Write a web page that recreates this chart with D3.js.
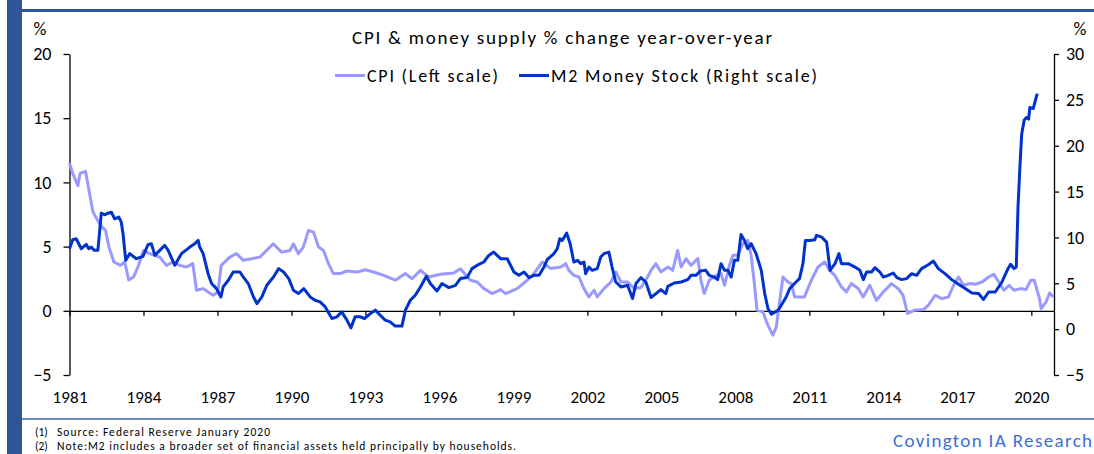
<!DOCTYPE html>
<html><head><meta charset="utf-8">
<script src="https://cdn.jsdelivr.net/npm/d3@7"></script>
<style>
html,body{margin:0;padding:0;background:#fff;}
svg{display:block;font-family:Carlito, Calibri, Lato, "Liberation Sans", sans-serif;}
</style></head>
<body><svg id="chart" width="1094" height="454"></svg>
<script>
const chartTitle = "CPI & money supply % change year-over-year";
const legendLabels = ["CPI (Left scale)", "M2 Money Stock (Right scale)"];
const xTickYears = [1981,1984,1987,1990,1993,1996,1999,2002,2005,2008,2011,2014,2017,2020];
const leftTicks = [-5,0,5,10,15,20];
const rightTicks = [-5,0,5,10,15,20,25,30];
const footnotes = ["Source: Federal Reserve January 2020", "Note:M2 includes a broader set of financial assets held principally by households."];
const brand = "Covington IA Research";

const cpiYears = [1981.0,1981.13,1981.34,1981.43,1981.65,1981.95,1982.26,1982.46,1982.6,1982.8,1983.07,1983.24,1983.4,1983.6,1983.8,1984.0,1984.25,1984.66,1984.93,1985.2,1985.47,1985.74,1986.0,1986.15,1986.42,1986.62,1986.83,1987.02,1987.15,1987.5,1987.77,1988.05,1988.38,1988.72,1989.26,1989.6,1989.94,1990.08,1990.28,1990.48,1990.69,1990.89,1991.1,1991.3,1991.5,1991.7,1991.98,1992.25,1992.66,1993.0,1993.33,1993.74,1994.21,1994.62,1994.89,1995.23,1995.57,1996.04,1996.58,1996.85,1997.26,1997.53,1997.8,1998.14,1998.48,1998.68,1999.15,1999.56,1999.83,2000.17,2000.5,2000.92,2001.12,2001.25,2001.45,2001.66,2001.86,2002.06,2002.27,2002.4,2002.67,2002.95,2003.15,2003.36,2003.63,2003.9,2004.17,2004.44,2004.58,2004.78,2004.98,2005.26,2005.46,2005.66,2005.8,2006.0,2006.2,2006.48,2006.6,2006.74,2006.94,2007.22,2007.42,2007.56,2007.76,2007.9,2008.1,2008.3,2008.5,2008.64,2008.77,2008.88,2009.11,2009.32,2009.52,2009.66,2009.8,2009.93,2010.13,2010.27,2010.4,2010.8,2011.08,2011.35,2011.62,2011.82,2012.03,2012.3,2012.5,2012.7,2012.98,2013.18,2013.45,2013.72,2014.0,2014.33,2014.6,2014.8,2014.98,2015.28,2015.62,2015.82,2016.1,2016.37,2016.64,2016.85,2017.05,2017.25,2017.52,2017.73,2018.0,2018.27,2018.48,2018.68,2018.89,2019.1,2019.3,2019.57,2019.78,2019.98,2020.12,2020.33,2020.4,2020.6,2020.74,2020.9];
const cpiValues = [11.5,10.7,9.75,10.7,10.86,7.7,6.65,6.26,4.96,3.8,3.54,3.8,2.4,2.63,3.54,4.7,4.45,4.18,3.54,3.8,3.54,3.41,3.67,1.6,1.73,1.47,1.21,1.47,3.54,4.18,4.45,3.93,4.06,4.18,5.22,4.57,4.7,5.22,4.45,4.96,6.26,6.13,4.96,4.7,3.67,2.9,2.9,3.1,3.02,3.2,3.02,2.76,2.38,2.9,2.5,3.15,2.63,2.84,2.94,3.28,2.38,2.24,1.73,1.34,1.65,1.34,1.73,2.38,2.9,3.8,3.3,3.41,3.67,3.15,2.76,2.63,1.73,1.08,1.6,1.08,1.73,2.24,3.02,2.24,2.24,1.73,1.81,2.63,3.15,3.67,3.02,3.41,3.15,4.7,3.41,4.06,3.54,4.06,2.38,1.34,2.38,2.76,2.9,1.99,3.54,4.32,4.32,5.22,5.48,4.32,2.12,0.05,-0.08,-1.12,-1.89,-1.25,0.82,2.63,2.24,2.12,1.08,1.08,2.38,3.41,3.8,3.15,2.76,1.86,1.47,2.12,1.73,1.08,1.99,0.82,1.47,2.12,1.73,1.21,-0.21,0.05,0.1,0.43,1.21,0.95,1.08,1.99,2.63,1.99,2.12,2.07,2.24,2.63,2.84,2.24,1.6,1.99,1.6,1.73,1.65,2.38,2.38,0.95,0.18,0.69,1.39,1.08];

const m2Years = [1981.0,1981.13,1981.27,1981.48,1981.68,1981.78,1981.88,1982.0,1982.15,1982.29,1982.42,1982.56,1982.7,1982.83,1983.0,1983.1,1983.17,1983.28,1983.44,1983.71,1983.98,1984.18,1984.32,1984.46,1984.66,1984.86,1985.0,1985.27,1985.54,1985.88,1986.08,1986.22,1986.28,1986.42,1986.62,1986.76,1986.96,1987.14,1987.23,1987.44,1987.64,1987.91,1988.05,1988.25,1988.46,1988.6,1988.8,1989.0,1989.27,1989.48,1989.68,1989.89,1990.08,1990.28,1990.5,1990.76,1990.96,1991.16,1991.37,1991.64,1991.84,1992.04,1992.25,1992.41,1992.58,1992.79,1992.96,1993.2,1993.4,1993.6,1993.8,1994.0,1994.21,1994.48,1994.62,1994.82,1995.02,1995.23,1995.47,1995.63,1995.9,1996.1,1996.38,1996.65,1996.85,1997.12,1997.32,1997.6,1997.8,1998.0,1998.2,1998.48,1998.75,1999.02,1999.22,1999.43,1999.63,1999.83,2000.04,2000.24,2000.37,2000.64,2000.78,2000.88,2000.98,2001.16,2001.3,2001.45,2001.6,2001.73,2001.86,2001.93,2002.06,2002.2,2002.4,2002.54,2002.67,2002.87,2003.0,2003.15,2003.36,2003.63,2003.83,2003.97,2004.17,2004.37,2004.58,2004.78,2004.98,2005.18,2005.26,2005.52,2005.8,2006.07,2006.2,2006.4,2006.58,2006.8,2006.94,2007.15,2007.28,2007.42,2007.56,2007.7,2007.83,2007.96,2008.1,2008.23,2008.37,2008.5,2008.64,2008.84,2009.05,2009.19,2009.32,2009.46,2009.74,2009.86,2010.06,2010.2,2010.4,2010.6,2010.74,2010.84,2011.01,2011.22,2011.29,2011.5,2011.7,2011.84,2012.04,2012.2,2012.3,2012.58,2012.85,2013.05,2013.19,2013.32,2013.52,2013.66,2013.86,2014.0,2014.2,2014.4,2014.55,2014.74,2014.94,2015.15,2015.35,2015.55,2015.82,2016.03,2016.23,2016.5,2016.77,2017.05,2017.32,2017.59,2017.86,2018.06,2018.27,2018.54,2018.81,2019.02,2019.16,2019.3,2019.39,2019.46,2019.53,2019.61,2019.71,2019.8,2019.89,2019.94,2020.08,2020.16,2020.24];
const m2Values = [8.77,9.75,9.86,8.77,9.24,8.77,8.95,8.59,8.59,12.64,12.47,12.64,12.75,12.03,12.21,11.66,10.4,7.5,8.23,7.68,7.93,9.2,9.32,8.04,8.59,9.13,8.59,6.96,8.23,8.95,9.32,9.67,8.95,8.23,6.05,4.97,4.42,3.51,4.6,5.33,6.23,6.23,5.68,4.97,3.51,2.79,3.51,4.78,5.68,6.6,6.23,5.51,4.24,3.88,4.42,3.51,3.15,2.97,2.42,1.16,1.34,1.88,0.98,0.14,1.34,1.34,1.16,1.7,2.07,1.52,0.98,0.79,0.33,0.33,2.07,3.15,3.7,4.6,5.76,4.97,4.16,4.97,4.53,4.78,5.51,5.62,6.6,7.07,7.32,8.04,8.4,7.68,7.68,6.23,5.87,6.23,5.62,5.87,5.87,6.77,7.58,8.23,8.77,9.86,9.67,10.47,9.32,7.32,7.5,7.14,7.32,6.05,6.77,6.41,6.6,7.86,8.23,8.4,6.77,5.14,4.6,4.78,3.34,4.97,5.62,5.14,3.45,3.88,4.31,3.88,4.67,5.03,5.14,5.4,5.87,5.87,6.34,6.41,5.87,5.68,5.4,7.14,6.41,6.41,5.68,7.5,7.5,10.33,9.67,8.77,9.32,8.23,6.41,3.88,2.25,1.63,2.07,2.6,3.5,4.4,4.97,5.51,7.14,9.67,9.67,9.75,10.22,10.03,9.49,6.41,7.14,8.23,7.14,7.14,6.77,6.41,5.4,6.23,6.23,6.7,6.23,5.68,5.87,6.12,5.62,5.4,5.51,6.05,5.87,6.6,7.03,7.42,6.6,6.05,5.4,4.89,4.42,3.95,3.88,3.23,4.05,4.05,5.14,6.41,7.07,6.6,6.77,13.29,17.28,21.27,22.79,23.08,22.9,24.16,24.05,24.89,25.68];

const cpiColor = "#9999ff", m2Color = "#0033cc", frameBlue = "#2f5597";
const svg = d3.select("#chart");

// frame
svg.append("rect").attr("x",7).attr("y",0).attr("width",15).attr("height",454).attr("fill",frameBlue);
svg.append("rect").attr("x",22).attr("y",9).attr("width",1072).attr("height",3).attr("fill",frameBlue);
svg.append("rect").attr("x",22).attr("y",418).attr("width",1072).attr("height",2).attr("fill","#6f8fc9");

const x = d3.scaleLinear().domain([1981, 2020.92]).range([69.5, 1054]);
const yL = d3.scaleLinear().domain([-5, 20]).range([375, 54]);
const yR = d3.scaleLinear().domain([-5, 30]).range([375, 54]);

// axes
const axL = svg.append("g").attr("transform","translate(69.5,0)")
  .call(d3.axisLeft(yL).tickValues(leftTicks).tickSize(6).tickSizeOuter(0).tickPadding(12));
const axR = svg.append("g").attr("transform","translate(1054,0)")
  .call(d3.axisRight(yR).tickValues(rightTicks).tickSize(5).tickSizeOuter(0).tickPadding(7));
const axX = svg.append("g").attr("transform",`translate(0,${yL(0)})`)
  .call(d3.axisBottom(x).tickValues(xTickYears).tickSize(5).tickSizeOuter(0).tickFormat(""));
const axXL = svg.append("g").attr("transform","translate(0,388)")
  .call(d3.axisBottom(x).tickValues(xTickYears).tickSize(0).tickFormat(d3.format("d")));
axXL.select(".domain").remove();
[axL, axR, axX, axXL].forEach(a => {
  a.selectAll("text").attr("font-family","Carlito, Calibri, Lato, sans-serif").attr("font-size",18).attr("fill","#000");
  a.selectAll("path,line").attr("stroke","#000").attr("stroke-width",1.3);
});
axXL.selectAll("text").attr("font-size",17).attr("textLength",35);

// percent labels
svg.append("text").attr("x",40).attr("y",35).attr("text-anchor","middle").attr("font-size",18).text("%");
svg.append("text").attr("x",1080).attr("y",35).attr("text-anchor","middle").attr("font-size",18).text("%");

// title
svg.append("text").attr("x",352).attr("y",44).attr("font-size",19).attr("textLength",420).text(chartTitle);

// lines
const lineGen = (ys, xs, vs) => d3.line().x((d,i)=>x(xs[i])).y((d,i)=>ys(vs[i]));
svg.append("path").datum(cpiValues).attr("d", lineGen(yL, cpiYears, cpiValues)).attr("fill","none")
  .attr("stroke",cpiColor).attr("stroke-width",3).attr("stroke-linejoin","round");
svg.append("path").datum(m2Values).attr("d", lineGen(yR, m2Years, m2Values)).attr("fill","none")
  .attr("stroke",m2Color).attr("stroke-width",3).attr("stroke-linejoin","round");

// legend
const leg = [{x:335, c:cpiColor, t:legendLabels[0], w:131}, {x:519, c:m2Color, t:legendLabels[1], w:266}];
leg.forEach(l => {
  svg.append("line").attr("x1",l.x).attr("x2",l.x+30).attr("y1",75.5).attr("y2",75.5).attr("stroke",l.c).attr("stroke-width",3);
  svg.append("text").attr("x",l.x+32).attr("y",82).attr("font-size",18).attr("textLength",l.w).text(l.t);
});

// footnotes
footnotes.forEach((f,i) => {
  svg.append("text").attr("x",35).attr("y",436+i*14).attr("font-size",11.5).text(`(${i+1})`);
  svg.append("text").attr("x",57).attr("y",436+i*14).attr("font-size",11.5).attr("textLength", i===0 ? 213 : 459).text(f);
});
svg.append("text").attr("x",893).attr("y",447).attr("font-size",19).attr("textLength",199).attr("fill","#3d6fd6").text(brand);
</script></body></html>
